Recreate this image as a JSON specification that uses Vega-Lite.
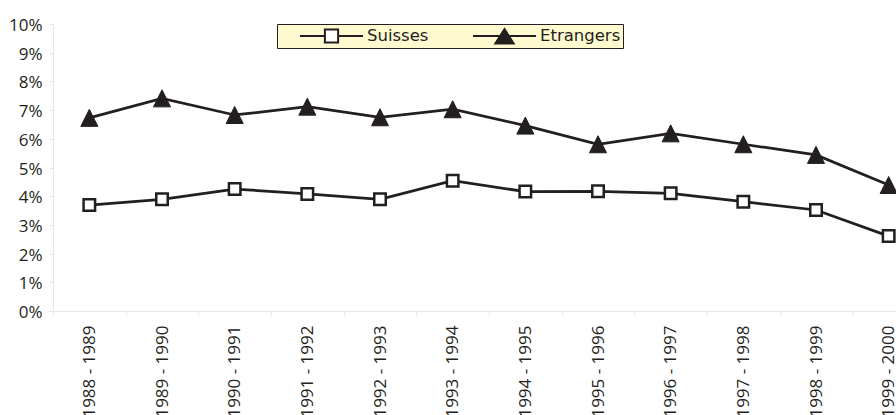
{
  "$schema": "https://vega.github.io/schema/vega-lite/v6.json",
  "autosize": {"type": "none"},
  "padding": {"left": 53, "top": 24, "right": 0, "bottom": 104},
  "width": 843,
  "height": 287,
  "background": "#ffffff",
  "config": {
    "view": {"stroke": null},
    "font": "Open Sans",
    "legend": {
      "orient": "none",
      "legendX": 224,
      "legendY": 0,
      "direction": "horizontal",
      "fillColor": "#fffad0",
      "strokeColor": "#231f20",
      "padding": 2,
      "clipHeight": 20,
      "symbolSize": 3969,
      "symbolOffset": 20,
      "symbolStrokeWidth": 2,
      "labelFont": "DejaVu Sans",
      "labelFontSize": 16.5,
      "labelColor": "#231f20",
      "labelOffset": 3,
      "columnPadding": 23
    }
  },
  "data": {
    "values": [
      {"periode": "1988 - 1989", "groupe": "Suisses", "taux": 0.0369},
      {"periode": "1989 - 1990", "groupe": "Suisses", "taux": 0.0389},
      {"periode": "1990 - 1991", "groupe": "Suisses", "taux": 0.0425},
      {"periode": "1991 - 1992", "groupe": "Suisses", "taux": 0.0408},
      {"periode": "1992 - 1993", "groupe": "Suisses", "taux": 0.0389},
      {"periode": "1993 - 1994", "groupe": "Suisses", "taux": 0.0454},
      {"periode": "1994 - 1995", "groupe": "Suisses", "taux": 0.0416},
      {"periode": "1995 - 1996", "groupe": "Suisses", "taux": 0.0417},
      {"periode": "1996 - 1997", "groupe": "Suisses", "taux": 0.0410},
      {"periode": "1997 - 1998", "groupe": "Suisses", "taux": 0.0381},
      {"periode": "1998 - 1999", "groupe": "Suisses", "taux": 0.0352},
      {"periode": "1999 - 2000", "groupe": "Suisses", "taux": 0.0261},
      {"periode": "1988 - 1989", "groupe": "Etrangers", "taux": 0.0673},
      {"periode": "1989 - 1990", "groupe": "Etrangers", "taux": 0.0741},
      {"periode": "1990 - 1991", "groupe": "Etrangers", "taux": 0.0683},
      {"periode": "1991 - 1992", "groupe": "Etrangers", "taux": 0.0712},
      {"periode": "1992 - 1993", "groupe": "Etrangers", "taux": 0.0675},
      {"periode": "1993 - 1994", "groupe": "Etrangers", "taux": 0.0703},
      {"periode": "1994 - 1995", "groupe": "Etrangers", "taux": 0.0646},
      {"periode": "1995 - 1996", "groupe": "Etrangers", "taux": 0.0581},
      {"periode": "1996 - 1997", "groupe": "Etrangers", "taux": 0.0619},
      {"periode": "1997 - 1998", "groupe": "Etrangers", "taux": 0.0581},
      {"periode": "1998 - 1999", "groupe": "Etrangers", "taux": 0.0544},
      {"periode": "1999 - 2000", "groupe": "Etrangers", "taux": 0.0439}
    ]
  },
  "encoding": {
    "x": {
      "field": "periode",
      "type": "nominal",
      "sort": null,
      "scale": {"type": "band", "range": [0, 872], "paddingInner": 0, "paddingOuter": 0},
      "axis": {
        "title": null,
        "labelAngle": -90,
        "labelFont": "Open Sans",
        "labelFontSize": 17,
        "labelColor": "#231f20",
        "labelPadding": 10,
        "labelOverlap": false,
        "tickBand": "extent",
        "tickSize": 4,
        "tickColor": "#e6e6e6",
        "domainColor": "#e6e6e6",
        "grid": false
      }
    },
    "y": {
      "field": "taux",
      "type": "quantitative",
      "scale": {"domain": [0, 0.1], "nice": false},
      "axis": {
        "title": null,
        "values": [0, 0.01, 0.02, 0.03, 0.04, 0.05, 0.06, 0.07, 0.08, 0.09, 0.1],
        "format": ".0%",
        "labelFont": "Open Sans",
        "labelFontSize": 17,
        "labelColor": "#231f20",
        "labelPadding": 7,
        "labelOffset": 1.5,
        "tickSize": 4,
        "tickColor": "#e6e6e6",
        "domainColor": "#e6e6e6",
        "grid": false
      }
    }
  },
  "layer": [
    {
      "mark": {"type": "line", "color": "#231f20", "strokeWidth": 2.75},
      "encoding": {"detail": {"field": "groupe", "type": "nominal"}}
    },
    {
      "mark": {"type": "point", "filled": false, "opacity": 1, "stroke": "#231f20"},
      "encoding": {
        "shape": {
          "condition": {"test": "datum.groupe === 'Etrangers'", "value": "M0,-1L1,1L-1,1Z"},
          "value": "square"
        },
        "fill": {
          "condition": {"test": "datum.groupe === 'Etrangers'", "value": "#231f20"},
          "value": "#ffffff"
        },
        "size": {
          "condition": {"test": "datum.groupe === 'Etrangers'", "value": 290},
          "value": 132
        },
        "strokeWidth": {
          "condition": {"test": "datum.groupe === 'Etrangers'", "value": 1},
          "value": 2.5
        }
      }
    },
    {
      "transform": [{"filter": "false"}],
      "mark": {"type": "point", "filled": false, "opacity": 1, "stroke": "#231f20", "strokeWidth": 2, "size": 3969},
      "encoding": {
        "shape": {
          "field": "groupe",
          "type": "nominal",
          "scale": {
            "domain": ["Suisses", "Etrangers"],
            "range": [
              "M-1,0H-0.21M0.21,0H1M-0.21,-0.21H0.21V0.21H-0.21Z",
              "M-1,0H1M0,-0.22L0.29,0.24H-0.29Z"
            ]
          },
          "legend": {"title": null}
        },
        "fill": {
          "field": "groupe",
          "type": "nominal",
          "scale": {"domain": ["Suisses", "Etrangers"], "range": ["#ffffff", "#231f20"]},
          "legend": {"title": null}
        }
      }
    }
  ]
}
